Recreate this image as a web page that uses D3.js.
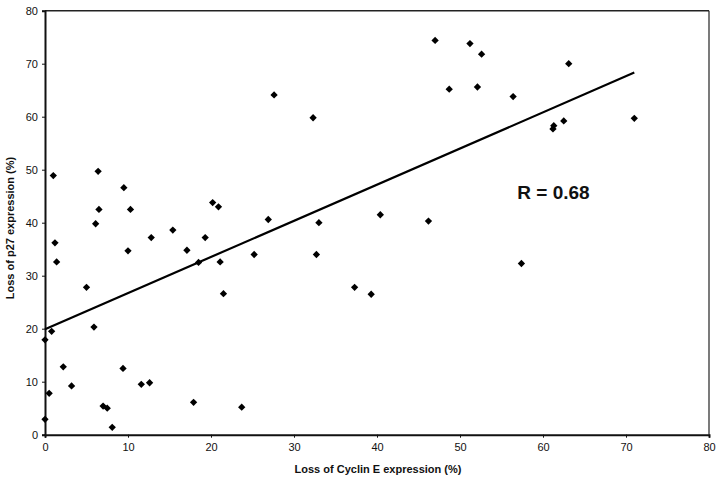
<!DOCTYPE html>
<html>
<head>
<meta charset="utf-8">
<script src="https://cdn.jsdelivr.net/npm/d3@7"></script>
<style>
html,body{margin:0;padding:0;background:#fff;}
svg{display:block;}
text{font-family:"Liberation Sans", Arial, sans-serif;fill:#111;}
</style>
</head>
<body>
<svg id="chart" width="720" height="481"></svg>
<script>
// Loss of Cyclin E expression (%) for each sample
const cyclinE = [0, 0.5, 0, 0.8, 2.2, 3.2, 5.9, 7.0, 7.5, 8.1, 9.4, 11.6, 12.6, 17.9, 23.7,
  1.0, 6.4, 1.2, 1.4, 6.5, 6.1, 9.5, 10.3, 10.0, 5.0, 12.8, 15.4, 17.1, 18.5, 19.3, 20.2, 20.9, 21.1, 21.5,
  26.9, 25.2, 33.0, 32.7, 40.4, 46.2, 37.3, 39.3,
  27.6, 32.3, 47.0, 51.2, 48.7, 52.6, 52.1, 63.1, 56.4, 61.3, 61.2, 62.5, 71.0, 57.4];
// Loss of p27 expression (%) for each sample
const p27 = [2.9, 7.8, 17.9, 19.5, 12.8, 9.2, 20.3, 5.4, 5.0, 1.4, 12.5, 9.5, 9.8, 6.1, 5.2,
  48.9, 49.7, 36.2, 32.6, 42.5, 39.8, 46.6, 42.5, 34.7, 27.8, 37.2, 38.6, 34.8, 32.5, 37.2, 43.8, 43.0, 32.6, 26.6,
  40.6, 34.0, 40.0, 34.0, 41.5, 40.3, 27.8, 26.5,
  64.1, 59.8, 74.4, 73.8, 65.2, 71.8, 65.6, 70.0, 63.8, 58.3, 57.7, 59.2, 59.7, 32.3];
// Linear trend line (x from, x to) and its fit
const trendX = [0, 71.0];
const trendIntercept = 19.9;
const trendSlope = 0.682;
const xTicks = [0, 10, 20, 30, 40, 50, 60, 70, 80];
const yTicks = [0, 10, 20, 30, 40, 50, 60, 70, 80];
const rLabel = "R = 0.68";
const rPos = [56.9, 44.4];
const xTitle = "Loss of Cyclin E expression (%)";
const yTitle = "Loss of p27 expression (%)";

const svg = d3.select("#chart");
const L = 45, R = 709, T = 10.7, B = 434.7;
const x = d3.scaleLinear().domain([0, 80]).range([L, R]);
const y = d3.scaleLinear().domain([0, 80]).range([B, T]);

// frame (top/right thin)
svg.append("line").attr("x1", L).attr("x2", R).attr("y1", T).attr("y2", T)
  .attr("stroke", "#222").attr("stroke-width", 1.5);
svg.append("line").attr("x1", R).attr("x2", R).attr("y1", T).attr("y2", B)
  .attr("stroke", "#222").attr("stroke-width", 1.2);

const xAxis = svg.append("g").attr("transform", `translate(0,${B})`)
  .call(d3.axisBottom(x).tickValues(xTicks).tickSize(3).tickPadding(6).tickFormat(d3.format("d")));
const yAxis = svg.append("g").attr("transform", `translate(${L},0)`)
  .call(d3.axisLeft(y).tickValues(yTicks).tickSize(3).tickPadding(4).tickFormat(d3.format("d")));
[xAxis, yAxis].forEach(g => {
  g.select(".domain").attr("stroke", "#111").attr("stroke-width", 2);
  g.selectAll(".tick line").attr("stroke", "#111").attr("stroke-width", 1);
  g.selectAll(".tick text").attr("font-size", 11).attr("font-family", '"Liberation Sans", Arial, sans-serif').attr("fill", "#222");
});

// trend line
svg.append("line")
  .attr("x1", x(trendX[0])).attr("y1", y(trendIntercept + trendSlope * trendX[0]))
  .attr("x2", x(trendX[1])).attr("y2", y(trendIntercept + trendSlope * trendX[1]))
  .attr("stroke", "#000").attr("stroke-width", 2.2);

// points
const pts = cyclinE.map((v, i) => [v, p27[i]]);
svg.append("g").selectAll("path").data(pts).join("path")
  .attr("transform", d => `translate(${x(d[0])},${y(d[1])})`)
  .attr("d", d3.symbol().type(d3.symbolDiamond2).size(34))
  .attr("fill", "#000");

// R label
svg.append("text").attr("x", x(rPos[0])).attr("y", y(rPos[1]))
  .attr("font-size", 19).attr("font-weight", "bold").attr("fill", "#000").text(rLabel);

// axis titles
svg.append("text").attr("x", (L + R) / 2 + 1).attr("y", 472.5).attr("text-anchor", "middle")
  .attr("font-size", 11).attr("font-weight", "bold").text(xTitle);
svg.append("text").attr("transform", "translate(14,228) rotate(-90)").attr("text-anchor", "middle")
  .attr("font-size", 11).attr("font-weight", "bold").text(yTitle);
</script>
</body>
</html>
